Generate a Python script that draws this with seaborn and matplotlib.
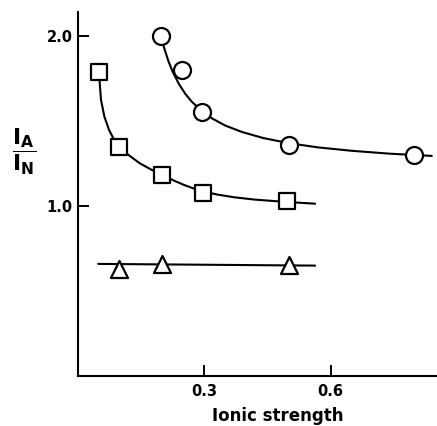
import matplotlib
matplotlib.use("Agg")
import matplotlib.pyplot as plt
import seaborn as sns

# Measured points (ionic strength, I_A/I_N)
circle_x = [0.197, 0.248, 0.295, 0.502, 0.797]
circle_y = [2.00, 1.80, 1.555, 1.36, 1.30]
square_x = [0.050, 0.098, 0.199, 0.297, 0.496]
square_y = [1.79, 1.349, 1.182, 1.074, 1.03]
triangle_x = [0.098, 0.199, 0.500]
triangle_y = [0.63, 0.66, 0.655]

# Fitted curves
circle_curve_x = [0.197, 0.205, 0.215, 0.225, 0.240, 0.255, 0.270, 0.295, 0.320, 0.350,
                  0.390, 0.440, 0.500, 0.570, 0.650, 0.740, 0.840]
circle_curve_y = [2.000, 1.925, 1.849, 1.787, 1.715, 1.658, 1.613, 1.555, 1.512, 1.472,
                  1.434, 1.399, 1.369, 1.344, 1.324, 1.307, 1.294]
square_curve_x = [0.0499, 0.0507, 0.0546, 0.0626, 0.0736, 0.0879, 0.0982, 0.1196, 0.147, 0.175,
                  0.199, 0.225, 0.250, 0.275, 0.300, 0.330, 0.370, 0.420, 0.490, 0.563]
square_curve_y = [1.790, 1.751, 1.624, 1.525, 1.447, 1.378, 1.349, 1.300, 1.250, 1.212,
                  1.182, 1.152, 1.125, 1.102, 1.084, 1.067, 1.051, 1.037, 1.024, 1.013]
triangle_curve_x = [0.048, 0.563]
triangle_curve_y = [0.659, 0.649]

x_ticks = [0.3, 0.6]
x_ticklabels = ["0.3", "0.6"]
y_ticks = [1.0, 2.0]
y_ticklabels = ["1.0", "2.0"]

sns.set_style("white")
plt.rcParams["font.family"] = ["DejaVu Sans"]
plt.rcParams["text.color"] = "black"
plt.rcParams["axes.labelcolor"] = "black"
plt.rcParams["xtick.color"] = "black"
plt.rcParams["ytick.color"] = "black"

fig = plt.figure(figsize=(4.37, 4.26), dpi=100)
ax = fig.add_axes([78 / 437, 50 / 426, 358 / 437, 364 / 426])

lw = 1.5
for cx, cy in [(circle_curve_x, circle_curve_y),
               (square_curve_x, square_curve_y),
               (triangle_curve_x, triangle_curve_y)]:
    sns.lineplot(x=cx, y=cy, ax=ax, color="black", linewidth=lw,
                 sort=False, estimator=None, zorder=2)

for px, py, mk, s in [(circle_x, circle_y, "o", 150),
                      (square_x, square_y, "s", 120),
                      (triangle_x, triangle_y, "^", 150)]:
    sns.scatterplot(x=px, y=py, ax=ax, marker=mk, s=s, facecolor="white",
                    edgecolor="black", linewidth=1.6, zorder=3)

ax.set_xlim(0, 0.85)
ax.set_ylim(0, 2.14)
ax.set_xticks(x_ticks)
ax.set_xticklabels(x_ticklabels)
ax.set_yticks(y_ticks)
ax.set_yticklabels(y_ticklabels)
for lab in ax.get_xticklabels() + ax.get_yticklabels():
    lab.set_fontweight("bold")
    lab.set_color("black")
ax.tick_params(axis="x", direction="in", length=8, width=1.4, pad=6, labelsize=10.5)
ax.tick_params(axis="y", direction="in", length=8, width=1.4, pad=4, labelsize=10.5)
ax.tick_params(bottom=True, left=True)

for sp in ["top", "right"]:
    ax.spines[sp].set_visible(False)
for sp in ["left", "bottom"]:
    ax.spines[sp].set_linewidth(1.5)
    ax.spines[sp].set_color("black")

ax.set_xlabel("Ionic strength", fontsize=12, fontweight="bold", va="center", color="black")
ax.xaxis.set_label_coords(0.559, -0.11)
ax.set_ylabel(r"$\dfrac{\mathbf{I}_{\mathbf{A}}}{\mathbf{I}_{\mathbf{N}}}$", fontsize=16,
              rotation=0, va="center", ha="center", color="black")
ax.yaxis.set_label_coords((24 - 78) / 358, (376 - 152) / 364)

fig.savefig("out.png", dpi=100)
